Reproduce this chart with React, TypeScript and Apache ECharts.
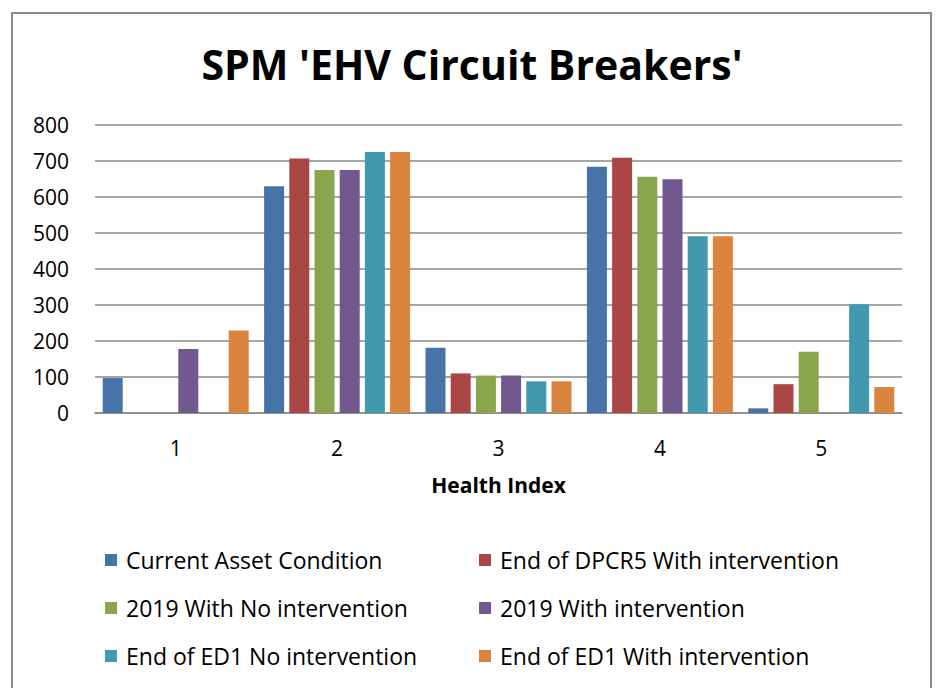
import React, { useEffect, useRef } from "react";
import * as echarts from "echarts";

const categories = ["1", "2", "3", "4", "5"];
const seriesNames = [
  "Current Asset Condition",
  "End of DPCR5 With intervention",
  "2019 With No intervention",
  "2019 With intervention",
  "End of ED1 No intervention",
  "End of ED1 With intervention",
];
const currentAsset = [97, 630, 181, 684, 13];
const endDPCR5With = [0, 707, 110, 709, 80];
const y2019NoInt = [0, 675, 104, 656, 170];
const y2019With = [178, 675, 104, 649, 0];
const endED1No = [0, 725, 88, 491, 302];
const endED1With = [229, 725, 88, 491, 72];
const seriesValues = [currentAsset, endDPCR5With, y2019NoInt, y2019With, endED1No, endED1With];
const colors = ["#4674A9", "#AA4643", "#89A54E", "#71588F", "#4198AF", "#DB843D"];
const yTicks = { min: 0, max: 800, interval: 100 };

const FONT = "Open Sans";

export default function App() {
  const ref = useRef<HTMLDivElement>(null);
  useEffect(() => {
    if (!ref.current) return;
    const chart = echarts.init(ref.current, undefined, { renderer: "svg" });
    const legendPos = [
      { left: 105, top: 548 },
      { left: 479, top: 548 },
      { left: 105, top: 596 },
      { left: 479, top: 596 },
      { left: 105, top: 644 },
      { left: 479, top: 644 },
    ];
    chart.setOption({
      animation: false,
      color: colors,
      title: {
        text: "SPM 'EHV Circuit Breakers'",
        left: "center",
        top: 38,
        textStyle: { fontFamily: FONT, fontWeight: "bold", fontSize: 41, color: "#000" },
      },
      graphic: [
        {
          type: "rect",
          shape: { x: 12, y: 13, width: 919, height: 700 },
          style: { fill: "none", stroke: "#8c8c8c", lineWidth: 2 },
          silent: true,
        },
      ],
      legend: seriesNames.map((n, i) => ({
        data: [n],
        left: legendPos[i].left,
        top: legendPos[i].top,
        icon: "rect",
        itemWidth: 12,
        itemHeight: 12,
        padding: 0,
        textStyle: {
          fontFamily: FONT,
          fontSize: 23,
          lineHeight: 24,
          color: "#000",
          padding: [0, 0, 0, 4],
        },
        selectedMode: false,
      })),
      grid: { left: 95, right: 42, top: 125, bottom: 275, containLabel: false },
      xAxis: {
        type: "category",
        data: categories,
        name: "Health Index",
        nameLocation: "middle",
        nameGap: 61,
        nameTextStyle: { fontFamily: FONT, fontWeight: "bold", fontSize: 21, color: "#000" },
        axisLine: { lineStyle: { color: "#888", width: 1.5 } },
        axisTick: { show: false },
        axisLabel: { fontFamily: FONT, fontSize: 21, color: "#000", margin: 24 },
      },
      yAxis: {
        type: "value",
        min: yTicks.min,
        max: yTicks.max,
        interval: yTicks.interval,
        axisLine: { show: false },
        axisTick: { show: false },
        axisLabel: { fontFamily: FONT, fontSize: 21, color: "#000", margin: 26 },
        splitLine: { lineStyle: { color: "#888", width: 1.5 } },
      },
      series: seriesNames.map((n, i) => ({
        name: n,
        type: "bar",
        data: seriesValues[i],
        barWidth: 20,
        barGap: "26%",
        itemStyle: { color: colors[i] },
      })),
    });
    return () => chart.dispose();
  }, []);
  return (
    <div
      ref={ref}
      style={{ position: "absolute", left: 0, top: 0, width: 944, height: 688, background: "#fff" }}
    />
  );
}
